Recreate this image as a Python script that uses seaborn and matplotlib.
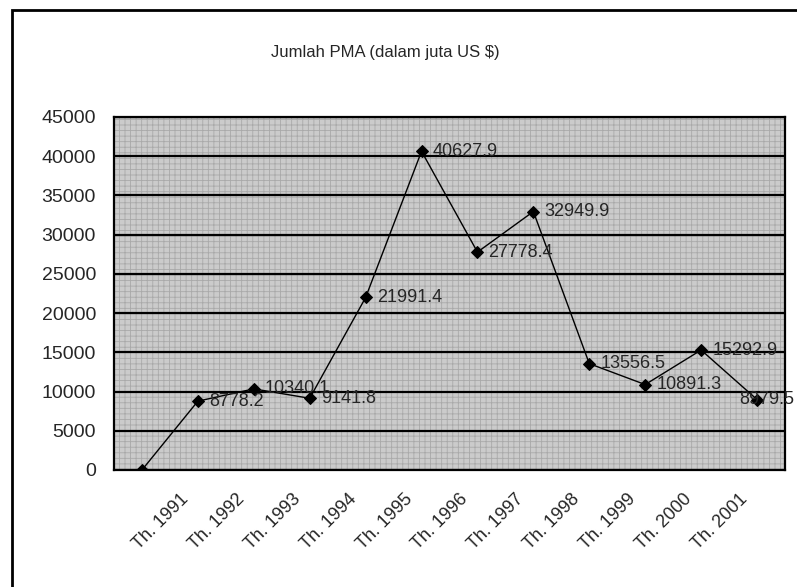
import seaborn as sns
import matplotlib.pyplot as plt
import matplotlib.transforms as mtransforms
from matplotlib.patches import Rectangle
import pandas as pd

# data
tahun = ["", "Th. 1991", "Th. 1992", "Th. 1993", "Th. 1994", "Th. 1995", "Th. 1996",
         "Th. 1997", "Th. 1998", "Th. 1999", "Th. 2000", "Th. 2001"]
pma = [0, 8778.2, 10340.1, 9141.8, 21991.4, 40627.9, 27778.4,
       32949.9, 13556.5, 10891.3, 15292.9, 8979.5]
label_teks = ["", "8778.2", "10340.1", "9141.8", "21991.4", "40627.9", "27778.4",
              "32949.9", "13556.5", "10891.3", "15292.9", "8979.5"]

df = pd.DataFrame({"pos": range(len(pma)), "pma": pma})

sns.set_style("white")
plt.rcParams["font.family"] = ["Liberation Sans", "DejaVu Sans"]
plt.rcParams["hatch.linewidth"] = 0.6

fig = plt.figure(figsize=(7.97, 5.87), dpi=100)
ax = fig.add_axes([114 / 797, 1 - 470 / 587, (785 - 114) / 797, (470 - 117) / 587])

# outer chart frame (only top and left visible in the scan)
fig.patches.append(Rectangle((12 / 797, -0.1), 1.2, 1 - 10 / 587 + 0.1,
                             transform=fig.transFigure, fill=False,
                             edgecolor="black", linewidth=2))

# halftone-ish grey plot area
ax.set_facecolor("#cbcbcb")
ax.add_patch(Rectangle((0, 0), 1, 1, transform=ax.transAxes, fill=False,
                       hatch="+++", edgecolor="#a9a9a9", linewidth=0, zorder=0))

sns.lineplot(data=df, x="pos", y="pma", ax=ax, color="black", linewidth=1,
             marker="D", markersize=6, markeredgecolor="black", zorder=3)

# data labels
for i, (v, t) in enumerate(zip(pma, label_teks)):
    if not t:
        continue
    dx = -13 if i == len(pma) - 1 else 8
    ax.annotate(t, (i, v), xytext=(dx, 0), textcoords="offset points",
                ha="left", va="center", fontsize=13, zorder=4)

ax.set_xlim(-0.5, len(pma) - 0.5)
ax.set_ylim(0, 45000)
ax.set_yticks(range(0, 45001, 5000))
ax.yaxis.grid(True, color="black", linewidth=1.6)
ax.set_axisbelow(False)
for gl in ax.get_ygridlines():
    gl.set_zorder(2)

ax.set_xticks([i - 0.5 for i in range(len(pma) + 1)])
ax.set_xticklabels([])
ax.set_xticks(range(len(pma)), minor=True)
ax.set_xticklabels(tahun, minor=True, rotation=45, ha="right", va="center",
                   rotation_mode="anchor", fontsize=13)
ax.tick_params(axis="x", which="major", length=5, width=1.5, direction="out")
ax.tick_params(axis="x", which="minor", length=0, pad=19)
ax.tick_params(axis="y", length=5, width=1.5, direction="out", pad=8, labelsize=14)
offset = mtransforms.ScaledTranslation(-12 / 100, 0, fig.dpi_scale_trans)
for lab in ax.get_xticklabels(minor=True):
    lab.set_transform(lab.get_transform() + offset)

for s in ax.spines.values():
    s.set_color("black")
    s.set_linewidth(1.6)

ax.set_xlabel("")
ax.set_ylabel("")

fig.text(385 / 797, 1 - 53 / 587, "Jumlah PMA (dalam juta US $)",
         ha="center", va="center", fontsize=12)

fig.savefig("out.png", dpi=100)
